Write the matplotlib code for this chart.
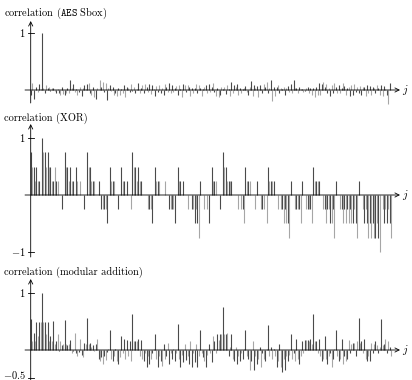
import matplotlib
matplotlib.use('Agg')
import numpy as np
import matplotlib.pyplot as plt

plt.rcParams['mathtext.fontset'] = 'cm'
plt.rcParams['axes.unicode_minus'] = False

###############################################################################
## data (j = 0..255)

aes_sbox = [
    -0.08, 0.12, -0.16, 0.0, 0.06, -0.03, 0.1, 0.02, 1.0, 0.04, -0.05, 0.09, 0.03, 0.05, -0.02, 0.04,
    0.03, -0.02, -0.06, 0.02, -0.05, -0.09, 0.05, -0.07, -0.08, -0.06, 0.03, -0.05, 0.17, 0.04, 0.1, -0.04,
    0.02, -0.09, -0.03, 0.05, -0.1, 0.03, 0.08, 0.02, 0.1, 0.12, -0.06, -0.08, 0.06, -0.12, -0.16, 0.04,
    0.0, 0.18, 0.05, 0.14, -0.03, 0.12, -0.17, 0.04, 0.08, -0.02, 0.05, -0.09, -0.06, -0.1, 0.03, -0.08,
    0.02, -0.05, 0.09, -0.12, 0.05, 0.03, -0.04, 0.1, -0.02, 0.06, -0.06, 0.02, 0.12, -0.05, 0.03, 0.08,
    -0.06, 0.1, 0.06, -0.03, 0.1, -0.07, 0.08, 0.02, -0.1, 0.07, -0.04, 0.09, -0.05, 0.04, -0.08, 0.1,
    0.05, -0.03, 0.12, -0.06, 0.09, -0.04, 0.03, 0.07, -0.09, 0.08, 0.02, -0.12, 0.1, 0.08, -0.03, 0.08,
    0.06, -0.11, 0.04, -0.05, 0.03, 0.1, -0.06, 0.08, 0.04, -0.1, 0.02, 0.05, 0.09, -0.06, 0.11, -0.03,
    0.05, 0.12, -0.04, -0.1, 0.04, -0.12, -0.08, 0.06, 0.02, 0.05, -0.07, 0.09, 0.02, -0.11, 0.14, -0.05,
    0.09, 0.06, 0.11, -0.08, 0.04, -0.06, 0.02, 0.03, 0.07, -0.04, -0.09, 0.06, 0.16, -0.1, 0.08, 0.03,
    0.07, -0.12, 0.09, 0.02, -0.05, 0.1, 0.06, 0.14, -0.06, 0.03, 0.18, -0.2, 0.05, -0.1, 0.06, 0.08,
    -0.06, 0.03, 0.02, 0.06, -0.08, 0.04, 0.07, -0.03, 0.1, -0.06, 0.17, 0.04, 0.03, -0.05, 0.05, 0.02,
    0.01, -0.04, -0.02, 0.03, 0.05, -0.06, 0.03, -0.08, 0.04, -0.12, 0.05, -0.08, 0.12, -0.09, 0.1, 0.14,
    0.06, 0.1, -0.05, 0.04, -0.1, 0.08, -0.06, 0.12, 0.05, -0.05, 0.09, -0.06, 0.03, 0.12, 0.07, -0.09,
    0.04, 0.05, -0.1, 0.09, -0.08, 0.11, -0.04, 0.06, -0.06, 0.07, -0.09, 0.05, 0.06, -0.1, 0.08, -0.06,
    0.07, -0.08, 0.05, 0.03, -0.06, 0.09, 0.04, -0.08, 0.08, -0.1, 0.07, 0.02, -0.08, -0.24, 0.12, 0.0,
]

xor = [
    0.75, 0.5, 0.5, 0.25, 0.5, 0.25, 0.25, 0, 1, 0.75, 0.75, 0.5, 0.75, 0.5, 0.5, 0.25,
    0.25, 0.5, 0.25, 0.25, 0, 0, -0.25, 0, 0.75, 0.5, 0.5, 0.25, 0.5, 0.25, 0.25, 0,
    0.5, 0.25, 0, 0.25, 0, 0, -0.25, 0, 0.75, 0.5, 0.5, 0.25, 0.25, 0.25, 0, 0,
    0.25, 0, -0.25, -0.25, -0.25, -0.25, -0.5, 0, 0.5, 0.25, 0.25, 0.25, 0, 0, -0.25, 0,
    0.5, 0.25, 0.25, 0, 0.25, 0, 0, -0.25, 0.75, 0.5, 0.5, 0.25, 0.5, 0.25, 0.25, 0,
    0, 0, 0, -0.25, -0.25, -0.25, -0.5, 0, 0.5, 0.25, 0.25, 0.25, 0, 0, 0, 0.25,
    0, 0, -0.25, -0.25, -0.25, -0.25, -0.5, 0, 0.5, 0.25, 0.25, 0, 0.25, 0, 0, -0.25,
    0, 0, -0.25, -0.25, -0.5, -0.25, -0.5, -0.75, 0.25, 0, 0, -0.25, 0, -0.25, -0.5, 0,
    0.5, 0.25, 0.25, 0.25, 0, 0, -0.25, 0, 0.75, 0.5, 0.5, 0.25, 0.25, 0.25, 0.25, 0,
    0, 0, 0, -0.25, 0, -0.25, -0.25, -0.5, 0.5, 0.25, 0.25, 0.25, 0, 0, 0, -0.25,
    0.25, 0, 0, -0.25, -0.25, -0.25, 0, -0.5, 0.5, 0.25, 0.25, 0.25, 0.25, 0, 0, -0.25,
    0, -0.25, -0.25, -0.5, -0.25, -0.5, -0.5, -0.75, 0.25, 0, 0, -0.25, -0.25, -0.25, -0.25, -0.5,
    0.25, 0, 0, -0.25, -0.25, -0.25, -0.25, -0.5, 0.5, 0.25, 0.25, 0.25, 0.25, 0, 0, -0.25,
    -0.25, -0.5, -0.25, -0.25, -0.5, -0.5, -0.25, -0.75, 0.25, 0, 0, -0.25, -0.25, -0.5, -0.25, -0.5,
    -0.25, -0.5, -0.25, -0.5, -0.5, -0.25, -0.5, -0.75, 0.25, 0, 0, -0.25, -0.5, -0.25, -0.5, -0.75,
    -0.5, -0.75, -0.5, -0.75, -0.75, -0.5, -0.75, -1, 0, -0.25, -0.5, -0.25, -0.5, -0.25, -0.5, -0.75,
]

mod_add = [
    0.55, 0.15, 0.3, 0.15, 0.5, 0.25, 0.5, 0.5, 1.0, 0.5, 0.5, 0.28, 0.5, 0.15, 0.25, 0.15,
    0.52, 0.1, 0.15, 0.28, -0.02, 0.15, 0.08, 0.1, 0.53, 0.1, 0.08, 0.1, 0.18, -0.05, -0.02, 0.3,
    -0.05, -0.1, -0.03, 0.2, -0.08, -0.12, 0.12, 0.1, 0.57, 0.1, 0.12, 0.05, 0.08, -0.02, 0.1, 0.2,
    -0.15, -0.2, -0.12, -0.25, -0.1, -0.18, -0.03, 0.02, 0.35, -0.15, -0.2, -0.1, 0.02, -0.2, -0.25, -0.12,
    0.25, -0.05, 0.2, -0.15, 0.18, -0.1, 0.15, -0.2, 0.64, 0.15, 0.15, 0.15, 0.2, -0.1, 0.18, -0.15,
    -0.2, -0.05, -0.3, -0.1, -0.25, -0.15, -0.05, 0.02, 0.28, -0.15, -0.3, -0.1, -0.2, -0.28, 0.1, -0.15,
    -0.1, 0.12, -0.25, -0.05, -0.15, 0.02, -0.2, -0.05, 0.45, -0.15, -0.3, -0.08, -0.22, 0.1, -0.18, -0.1,
    -0.25, 0.15, -0.3, -0.05, -0.22, 0.1, -0.3, -0.1, 0.35, -0.05, -0.12, -0.2, -0.3, -0.08, 0.1, -0.05,
    -0.22, 0.25, 0.15, -0.05, 0.28, 0.18, 0.28, 0.28, 0.75, 0.28, 0.28, 0.3, -0.1, 0.05, 0.28, -0.15,
    -0.2, 0.05, -0.25, -0.1, -0.2, -0.05, -0.15, 0.02, 0.35, -0.1, -0.15, -0.35, -0.2, 0.15, -0.35, -0.1,
    -0.25, -0.15, 0.05, -0.3, -0.05, -0.15, -0.2, 0.02, 0.44, -0.1, 0.05, -0.15, 0.02, -0.1, -0.3, -0.2,
    0.1, -0.3, -0.38, -0.15, -0.35, -0.1, -0.2, -0.08, 0.28, -0.15, -0.05, -0.2, 0.2, -0.15, -0.25, -0.1,
    0.15, -0.05, 0.18, 0.18, 0.17, 0.15, 0.2, 0.1, 0.64, 0.15, 0.15, -0.05, 0.2, -0.1, -0.2, -0.15,
    0.25, -0.15, -0.25, -0.1, -0.05, -0.3, -0.15, 0.02, 0.35, -0.1, -0.2, -0.15, 0.2, -0.25, -0.1, -0.2,
    -0.15, 0.17, -0.05, 0.1, 0.12, 0.12, -0.1, 0.15, 0.56, 0.12, 0.15, -0.05, 0.2, -0.15, -0.2, -0.1,
    -0.2, 0.12, -0.05, 0.1, 0.15, 0.08, -0.05, 0.05, 0.54, 0.08, 0.1, 0.2, -0.05, 0.15, 0.05, -0.1,
]

titles = [r'correlation ($\mathtt{AES}$ Sbox)', 'correlation (XOR)',
          'correlation (modular addition)']
yticks = [[1], [1, -1], [1, -0.5]]
yticklabels = [['$1$'], ['$1$', '$-1$'], ['$1$', '$-0.5$']]

###############################################################################
## layout (pixels of the 412x380 picture)

W, H = 412, 380
X0, DX = 30.7, 1.413          # pixel of j = 0, pixels per j
UNIT = 56.7                   # pixels per correlation unit
# (axes top, axes bottom, zero line, arrow top, axis bottom, title y)
panels = [(0, 108, 90, 21, 103, 13),
          (110, 262, 195, 124, 257, 118),
          (262, 380, 350, 279, 380, 272)]

fig = plt.figure(figsize=(W / 100, H / 100), dpi=100)

dark, light = '#4a4a4a', '#a6a6a6'
j = np.arange(256)
colors = [dark if k % 2 == 0 else light for k in j]
arrow = dict(arrowstyle='->, head_length=0.3, head_width=0.15', lw=0.6,
             color='black', shrinkA=0, shrinkB=0)

for vals, title, yt, ytl, (top, bot, zero, atop, abot, ty) in zip(
        [aes_sbox, xor, mod_add], titles, yticks, yticklabels, panels):
    ax = fig.add_axes([0, 1 - bot / H, 1, (bot - top) / H])
    ax.set_xlim(-X0 / DX, (W - X0) / DX)
    ax.set_ylim((zero - bot) / UNIT, (zero - top) / UNIT)
    ax.axis('off')

    ax.vlines(j, 0, vals, colors=colors, lw=0.8)

    # x axis with arrow
    ax.annotate('', xy=((400 - X0) / DX, 0), xytext=((25 - X0) / DX, 0),
                arrowprops=arrow)
    ax.text((405 - X0) / DX, 0, '$j$', fontsize=8, ha='center', va='center')
    # y axis with arrow
    ax.annotate('', xy=(0, (zero - atop) / UNIT), xytext=(0, (zero - abot) / UNIT),
                arrowprops=arrow)
    for v, lab in zip(yt, ytl):
        ax.plot([-2.2, 2.2], [v, v], color='black', lw=0.6)
        # keep the lowest label inside the picture
        ly = v if (zero - v * UNIT) < H - 5 else (zero - (H - 5)) / UNIT
        ax.text(-3.5, ly, lab, fontsize=7.5, ha='right', va='center')

    fig.text(4 / W, 1 - ty / H, title, family='cmr10', fontsize=7.5,
             ha='left', va='center')

fig.savefig('out.png', dpi=100)
